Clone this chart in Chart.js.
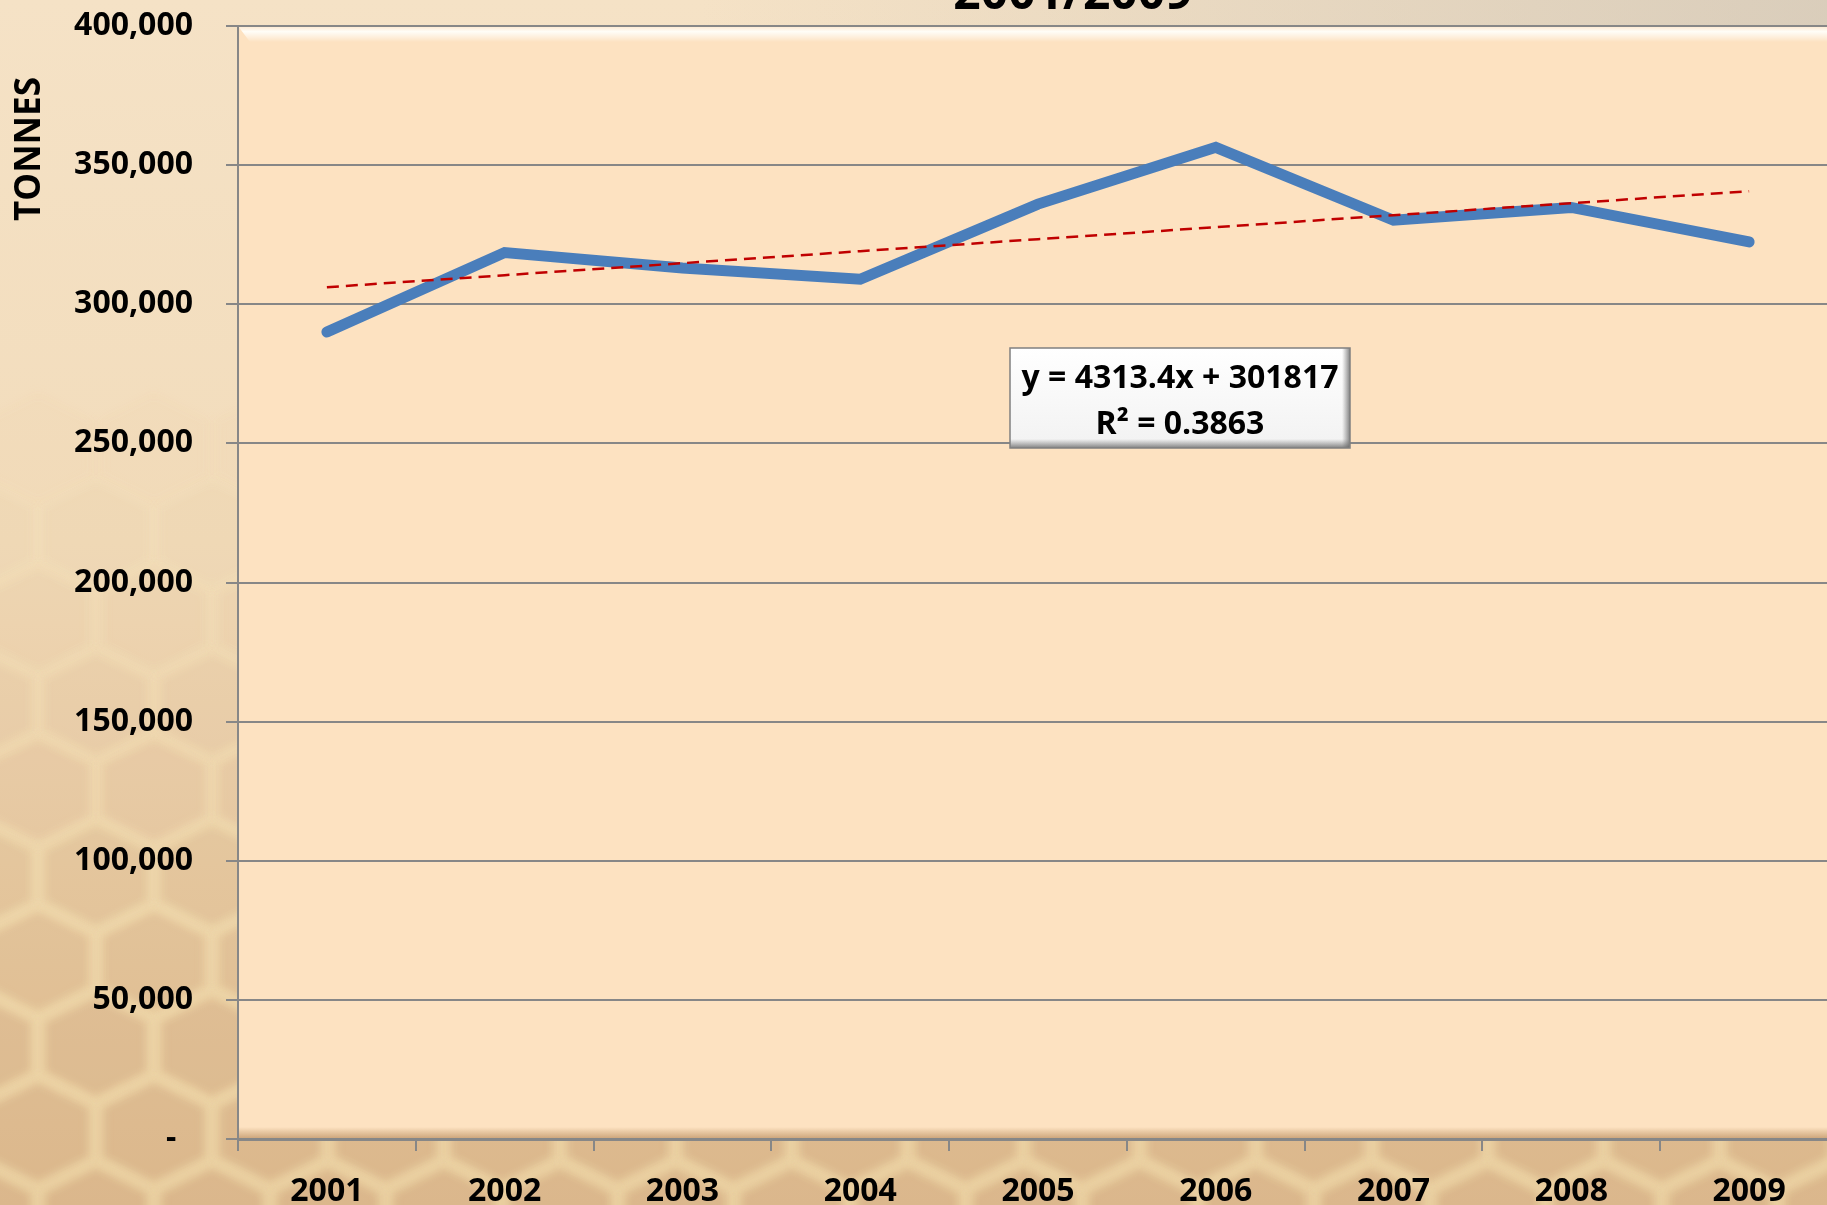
<!DOCTYPE html>
<html>
<head>
<meta charset="utf-8">
<script src="https://cdn.jsdelivr.net/npm/chart.js@4.4.0/dist/chart.umd.min.js"></script>
<style>
  html, body { margin: 0; padding: 0; overflow: hidden; background: #efd8b8; }
  #wrap { width: 1827px; height: 1205px; overflow: hidden; position: relative; }
  canvas { display: block; }
</style>
</head>
<body>
<div id="wrap"><canvas id="honeyChart" width="1838" height="1205"></canvas></div>
<script>
// production, tonnes
const years = ["2001", "2002", "2003", "2004", "2005", "2006", "2007", "2008", "2009"];
const tonnes = [290000, 318600, 313000, 309000, 336000, 356400, 330200, 334800, 322400];

// linear trend as printed on the chart
const trendSlope = 4313.4;
const trendIntercept = 301817;
const rSquared = 0.3863;

const yMin = 0;
const yMax = 400000;
const yStep = 50000;

const titleText = "2001/2009";
const yTitle = "TONNES";

const trend = years.map((y, i) => trendIntercept + trendSlope * (i + 1));
const FONT = "'Open Sans', 'DejaVu Sans', sans-serif";

Chart.defaults.font.family = FONT;
Chart.defaults.font.weight = "bold";
Chart.defaults.font.size = 32;
Chart.defaults.color = "#000";

function hexPath(ctx, cx, cy, r) {
  ctx.beginPath();
  for (let k = 0; k < 6; k++) {
    const ang = Math.PI / 6 + (k * Math.PI) / 3;
    const px = cx + r * Math.cos(ang) * 1.08;
    const py = cy + r * Math.sin(ang) * 0.92;
    if (k === 0) ctx.moveTo(px, py);
    else ctx.lineTo(px, py);
  }
  ctx.closePath();
}

const backdrop = {
  id: "backdrop",
  beforeDraw(chart) {
    const { ctx, chartArea: a, width: w, height: h } = chart;
    ctx.save();
    let g = ctx.createLinearGradient(0, 0, 0, h);
    g.addColorStop(0, "#f5e2c6");
    g.addColorStop(0.45, "#f2dcbb");
    g.addColorStop(1, "#e2c39a");
    ctx.fillStyle = g;
    ctx.fillRect(0, 0, w, h);
    // honeycomb cells
    ctx.filter = "blur(4px)";
    const R = 62;
    const dx = Math.sqrt(3) * R * 1.08;
    const dy = 1.5 * R * 0.92;
    for (let r = -1; r < 16; r++) {
      for (let c = -1; c < 20; c++) {
        const cx = c * dx + (r % 2 ? dx / 2 : 0) - 20;
        const cy = r * dy + 20;
        const t = Math.min(1, Math.max(0, (cy - 380) / 650));
        if (t <= 0) continue;
        hexPath(ctx, cx, cy, R - 4);
        ctx.fillStyle = `rgba(190,135,75,${0.18 * t})`;
        ctx.fill();
        ctx.lineWidth = 8;
        ctx.strokeStyle = `rgba(255,240,185,${0.38 * t})`;
        ctx.stroke();
      }
    }
    ctx.filter = "none";
    g = ctx.createLinearGradient(700, 0, 1827, 0);
    g.addColorStop(0, "rgba(200,192,180,0)");
    g.addColorStop(1, "rgba(200,192,180,0.6)");
    ctx.fillStyle = g;
    ctx.fillRect(0, 0, w, a.top);

    // plot area
    ctx.fillStyle = "#fde2c1";
    ctx.fillRect(a.left, a.top, a.right - a.left, a.bottom - a.top);
    g = ctx.createLinearGradient(0, a.top, 0, a.top + 16);
    g.addColorStop(0, "rgba(255,255,255,0.2)");
    g.addColorStop(0.35, "rgba(255,255,250,0.95)");
    g.addColorStop(1, "rgba(255,255,255,0)");
    ctx.fillStyle = g;
    ctx.beginPath();
    ctx.moveTo(a.left, a.top);
    ctx.lineTo(a.right, a.top);
    ctx.lineTo(a.right, a.top + 16);
    ctx.lineTo(a.left + 12, a.top + 16);
    ctx.closePath();
    ctx.fill();
    g = ctx.createLinearGradient(0, a.bottom - 12, 0, a.bottom);
    g.addColorStop(0, "rgba(170,120,70,0)");
    g.addColorStop(1, "rgba(170,120,70,0.6)");
    ctx.fillStyle = g;
    ctx.fillRect(a.left, a.bottom - 12, a.right - a.left, 12);
    ctx.restore();
  },
  afterDraw(chart) {
    const { ctx } = chart;
    ctx.save();
    // title, mostly cut off at the top
    ctx.fillStyle = "#000";
    ctx.font = "bold 48px " + FONT;
    ctx.textAlign = "center";
    ctx.textBaseline = "alphabetic";
    ctx.fillText(titleText, 1073, 9);

    // axis title
    ctx.save();
    ctx.translate(30, 149);
    ctx.rotate(-Math.PI / 2);
    ctx.font = "bold 35px " + FONT;
    ctx.textBaseline = "middle";
    ctx.fillText(yTitle, 0, 0);
    ctx.restore();

    // equation box
    const bx = 1010, by = 348, bw = 340, bh = 100;
    let g = ctx.createLinearGradient(0, by, 0, by + bh);
    g.addColorStop(0, "#ffffff");
    g.addColorStop(1, "#f2f2f2");
    ctx.fillStyle = g;
    ctx.fillRect(bx, by, bw, bh);
    g = ctx.createLinearGradient(bx + bw - 8, 0, bx + bw, 0);
    g.addColorStop(0, "rgba(120,120,120,0)");
    g.addColorStop(1, "rgba(100,100,100,0.8)");
    ctx.fillStyle = g;
    ctx.fillRect(bx + bw - 8, by, 8, bh);
    g = ctx.createLinearGradient(0, by + bh - 9, 0, by + bh);
    g.addColorStop(0, "rgba(120,120,120,0)");
    g.addColorStop(1, "rgba(100,100,100,0.8)");
    ctx.fillStyle = g;
    ctx.fillRect(bx, by + bh - 9, bw, 9);
    ctx.strokeStyle = "#808080";
    ctx.lineWidth = 1.5;
    ctx.strokeRect(bx, by, bw, bh);
    ctx.fillStyle = "#000";
    ctx.font = "bold 32px " + FONT;
    ctx.textBaseline = "middle";
    ctx.fillText(`y = ${trendSlope}x + ${trendIntercept}`, bx + bw / 2, by + 31);
    ctx.fillText(`R² = ${rSquared}`, bx + bw / 2, by + 77);
    ctx.restore();
  },
};

new Chart(document.getElementById("honeyChart"), {
  type: "line",
  data: {
    labels: years,
    datasets: [
      {
        label: "Linear trend",
        data: trend,
        borderColor: "#c00000",
        borderWidth: 2.5,
        borderDash: [12, 7],
        pointRadius: 0,
        fill: false,
        order: 0,
      },
      {
        label: "Tonnes",
        data: tonnes,
        borderColor: "#4a7ebb",
        borderWidth: 11,
        borderCapStyle: "round",
        borderJoinStyle: "miter",
        pointRadius: 0,
        tension: 0,
        fill: false,
        order: 1,
      },
    ],
  },
  options: {
    responsive: false,
    animation: false,
    devicePixelRatio: 1,
    layout: { padding: { top: 26, left: 0, right: 0, bottom: 0 } },
    plugins: {
      legend: { display: false },
      tooltip: { enabled: false },
      title: { display: false },
    },
    scales: {
      x: {
        offset: true,
        grid: {
          offset: true,
          drawOnChartArea: false,
          tickLength: 12,
          color: "#878787",
          lineWidth: 2,
        },
        border: { color: "#878787", width: 3 },
        ticks: { padding: 22, maxRotation: 0, autoSkip: false },
        afterFit: (scale) => { scale.height = 66; },
      },
      y: {
        min: yMin,
        max: yMax,
        grid: { color: "#878787", lineWidth: 2, tickLength: 12 },
        border: { color: "#878787", width: 2 },
        ticks: {
          stepSize: yStep,
          padding: 33,
          callback: (v) => (v === 0 ? "-  " : v.toLocaleString("en-US")),
        },
        afterFit: (scale) => {
          scale.width = 238;
          scale.paddingTop = 0;
          scale.paddingBottom = 0;
        },
      },
    },
  },
  plugins: [backdrop],
});
</script>
</body>
</html>
